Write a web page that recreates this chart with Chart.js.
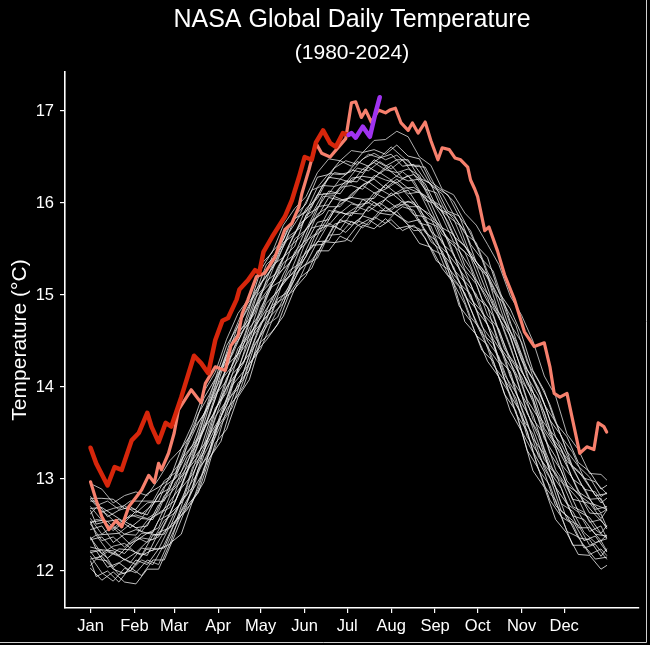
<!DOCTYPE html>
<html>
<head>
<meta charset="utf-8">
<title>NASA Global Daily Temperature</title>
<script src="https://cdn.jsdelivr.net/npm/chart.js@4.4.1/dist/chart.umd.min.js"></script>
<style>
  html, body { margin: 0; padding: 0; background: #000; }
  #wrap { width: 650px; height: 645px; }
</style>
</head>
<body>
<div id="wrap"><canvas id="tempChart" width="650" height="645"></canvas></div>
<script>
// Axis ticks
const monthStarts = [1, 32, 60, 91, 121, 152, 182, 213, 244, 274, 305, 335];
const monthLabels = ['Jan', 'Feb', 'Mar', 'Apr', 'May', 'Jun', 'Jul', 'Aug', 'Sep', 'Oct', 'Nov', 'Dec'];
const tempTicks = [12, 13, 14, 15, 16, 17];

// Past years (1980-2022), read every 8 days off the picture
const sampleDays = [1, 9, 17, 25, 33, 41, 49, 57, 65, 73, 81, 89, 97, 105, 113, 121, 129, 137, 145, 153, 161, 169, 177, 185,
  193, 201, 209, 217, 225, 233, 241, 249, 257, 265, 273, 281, 289, 297, 305, 313, 321, 329, 337, 345, 353, 361, 365];
// second group of years, sampled half a step later
const sampleDaysB = [1, 5, 13, 21, 29, 37, 45, 53, 61, 69, 77, 85, 93, 101, 109, 117, 125, 133, 141, 149, 157, 165, 173, 181,
  189, 197, 205, 213, 221, 229, 237, 245, 253, 261, 269, 277, 285, 293, 301, 309, 317, 325, 333, 341, 349, 357, 365];

const past01 = [12.03, 11.90, 11.99, 11.88, 11.86, 12.02, 12.02, 12.30, 12.40, 12.76, 12.97, 13.39, 13.54, 13.89, 14.08, 14.49, 14.60, 14.77, 15.07, 15.21, 15.48, 15.48, 15.64, 15.58, 15.76, 15.72, 15.83, 15.72, 15.75, 15.56, 15.52, 15.29, 15.13, 14.71, 14.57, 14.28, 14.11, 13.74, 13.52, 13.09, 12.91, 12.56, 12.41, 12.18, 12.17, 12.02, 12.06];
const past02 = [12.16, 11.98, 11.89, 12.03, 11.98, 12.12, 12.07, 12.35, 12.61, 12.75, 13.12, 13.34, 13.76, 13.91, 14.25, 14.41, 14.72, 14.96, 15.06, 15.33, 15.40, 15.65, 15.66, 15.80, 15.73, 15.85, 15.78, 15.91, 15.76, 15.72, 15.50, 15.44, 15.13, 14.90, 14.56, 14.46, 14.11, 13.92, 13.52, 13.29, 12.92, 12.77, 12.43, 12.37, 12.18, 12.24, 12.17];
const past03 = [12.13, 12.16, 12.02, 11.97, 12.12, 12.07, 12.24, 12.29, 12.66, 12.88, 13.08, 13.53, 13.71, 14.04, 14.18, 14.59, 14.79, 14.91, 15.22, 15.34, 15.58, 15.59, 15.82, 15.76, 15.86, 15.82, 15.95, 15.87, 15.79, 15.82, 15.58, 15.48, 15.18, 15.02, 14.69, 14.43, 14.26, 13.91, 13.71, 13.30, 13.08, 12.71, 12.60, 12.36, 12.34, 12.16, 12.24];
const past04 = [12.26, 12.23, 12.04, 12.13, 12.07, 12.25, 12.24, 12.49, 12.60, 12.88, 13.26, 13.50, 13.85, 13.98, 14.35, 14.56, 14.89, 14.96, 15.24, 15.47, 15.57, 15.78, 15.71, 15.89, 15.88, 16.01, 15.91, 15.98, 15.98, 15.78, 15.75, 15.45, 15.31, 14.99, 14.85, 14.50, 14.33, 14.00, 13.67, 13.49, 13.11, 12.91, 12.56, 12.50, 12.28, 12.33, 12.22];
const past05 = [12.20, 12.23, 12.22, 12.12, 12.20, 12.17, 12.42, 12.47, 12.77, 12.91, 13.31, 13.55, 13.80, 14.20, 14.36, 14.70, 14.83, 15.15, 15.25, 15.42, 15.71, 15.76, 15.90, 15.86, 16.04, 15.97, 16.04, 15.95, 16.02, 15.95, 15.69, 15.59, 15.28, 15.14, 14.84, 14.68, 14.30, 14.17, 13.76, 13.44, 13.27, 12.91, 12.73, 12.47, 12.47, 12.33, 12.39];
const past06 = [12.36, 12.19, 12.27, 12.30, 12.20, 12.32, 12.37, 12.62, 12.74, 13.13, 13.29, 13.68, 13.85, 14.20, 14.50, 14.67, 14.97, 15.12, 15.27, 15.59, 15.68, 15.92, 15.89, 15.99, 15.96, 16.11, 16.05, 16.11, 15.96, 15.96, 15.84, 15.56, 15.45, 15.15, 15.01, 14.68, 14.47, 14.11, 13.92, 13.55, 13.21, 13.07, 12.73, 12.64, 12.43, 12.49, 12.36];
const past07 = [12.34, 12.37, 12.24, 12.19, 12.33, 12.41, 12.39, 12.63, 12.90, 13.05, 13.30, 13.74, 14.00, 14.17, 14.57, 14.75, 14.94, 15.23, 15.45, 15.56, 15.79, 15.82, 16.02, 16.06, 16.04, 16.05, 16.20, 16.10, 16.14, 15.95, 15.87, 15.73, 15.43, 15.26, 14.98, 14.87, 14.45, 14.28, 13.92, 13.70, 13.33, 13.03, 12.91, 12.65, 12.58, 12.41, 12.49];
const past08 = [12.51, 12.33, 12.37, 12.26, 12.37, 12.31, 12.55, 12.62, 12.91, 13.21, 13.37, 13.77, 13.94, 14.34, 14.51, 14.86, 15.09, 15.17, 15.47, 15.60, 15.88, 15.96, 15.96, 16.10, 16.19, 16.11, 16.15, 16.23, 16.10, 16.12, 15.87, 15.66, 15.57, 15.27, 15.12, 14.78, 14.63, 14.27, 14.03, 13.65, 13.49, 13.10, 12.92, 12.78, 12.53, 12.56, 12.46];
const past09 = [12.45, 12.49, 12.31, 12.40, 12.45, 12.41, 12.47, 12.76, 12.92, 13.23, 13.55, 13.73, 14.10, 14.29, 14.64, 14.80, 15.11, 15.35, 15.44, 15.72, 15.85, 16.06, 16.03, 16.06, 16.20, 16.26, 16.16, 16.26, 16.16, 16.11, 16.00, 15.73, 15.66, 15.32, 15.16, 14.97, 14.61, 14.31, 14.11, 13.84, 13.44, 13.24, 12.93, 12.85, 12.63, 12.62, 12.48];
const past10 = [12.57, 12.40, 12.49, 12.40, 12.39, 12.55, 12.62, 12.69, 13.04, 13.21, 13.54, 13.91, 14.07, 14.42, 14.58, 14.95, 15.12, 15.29, 15.61, 15.71, 15.96, 15.98, 16.17, 16.19, 16.15, 16.30, 16.25, 16.22, 16.30, 16.12, 16.04, 15.85, 15.58, 15.47, 15.17, 14.93, 14.77, 14.45, 14.07, 13.87, 13.52, 13.33, 12.98, 12.83, 12.74, 12.57, 12.66];
const past11 = [12.53, 12.55, 12.44, 12.54, 12.47, 12.49, 12.72, 12.84, 12.98, 13.34, 13.53, 13.87, 14.23, 14.36, 14.72, 15.02, 15.15, 15.41, 15.53, 15.87, 15.94, 16.13, 16.10, 16.27, 16.29, 16.27, 16.39, 16.29, 16.24, 16.26, 16.02, 15.91, 15.64, 15.53, 15.32, 15.01, 14.75, 14.56, 14.17, 13.95, 13.55, 13.37, 13.14, 12.86, 12.78, 12.63, 12.67];
const past12 = [12.70, 12.55, 12.46, 12.57, 12.61, 12.57, 12.65, 12.94, 13.08, 13.29, 13.68, 13.98, 14.19, 14.55, 14.70, 15.00, 15.32, 15.41, 15.68, 15.83, 16.09, 16.10, 16.26, 16.22, 16.37, 16.44, 16.36, 16.33, 16.37, 16.30, 16.04, 15.96, 15.83, 15.54, 15.32, 15.20, 14.80, 14.60, 14.34, 13.94, 13.73, 13.36, 13.23, 13.00, 12.78, 12.79, 12.66];
const past13 = [12.68, 12.69, 12.61, 12.53, 12.65, 12.61, 12.83, 12.90, 13.21, 13.37, 13.71, 13.95, 14.34, 14.58, 14.74, 15.13, 15.29, 15.57, 15.66, 15.94, 16.05, 16.28, 16.26, 16.36, 16.33, 16.47, 16.40, 16.47, 16.47, 16.27, 16.21, 15.92, 15.86, 15.69, 15.36, 15.22, 14.97, 14.61, 14.29, 14.08, 13.82, 13.46, 13.19, 13.09, 12.91, 12.74, 12.79];
const past14 = [12.81, 12.64, 12.68, 12.71, 12.63, 12.74, 12.76, 13.04, 13.19, 13.54, 13.70, 14.09, 14.31, 14.67, 14.90, 15.10, 15.41, 15.54, 15.83, 15.90, 16.17, 16.32, 16.31, 16.34, 16.48, 16.54, 16.47, 16.52, 16.41, 16.41, 16.19, 16.10, 15.88, 15.67, 15.57, 15.25, 15.04, 14.68, 14.49, 14.11, 13.81, 13.62, 13.30, 13.14, 13.02, 12.81, 12.85];
const past15 = [12.79, 12.79, 12.78, 12.68, 12.67, 12.84, 12.91, 13.00, 13.33, 13.51, 13.88, 14.09, 14.45, 14.66, 14.88, 15.27, 15.47, 15.60, 15.86, 15.99, 16.28, 16.31, 16.46, 16.40, 16.55, 16.58, 16.53, 16.63, 16.51, 16.48, 16.23, 16.14, 16.02, 15.79, 15.54, 15.41, 15.03, 14.85, 14.57, 14.18, 13.96, 13.61, 13.46, 13.18, 13.08, 12.89, 12.93];
const past16 = [12.95, 12.89, 12.74, 12.82, 12.86, 12.82, 13.00, 13.20, 13.33, 13.60, 13.95, 14.16, 14.52, 14.80, 14.97, 15.33, 15.46, 15.76, 15.94, 16.07, 16.33, 16.48, 16.46, 16.57, 16.55, 16.68, 16.69, 16.78, 16.72, 16.50, 16.41, 16.15, 16.09, 15.89, 15.76, 15.55, 15.33, 14.99, 14.78, 14.50, 14.12, 13.90, 13.49, 13.32, 13.06, 13.05, 12.99];
const past17 = [12.11, 11.94, 12.00, 11.88, 12.04, 11.95, 12.12, 12.12, 12.41, 12.71, 12.85, 13.23, 13.41, 13.83, 14.01, 14.37, 14.51, 14.68, 15.01, 15.19, 15.29, 15.58, 15.57, 15.59, 15.75, 15.82, 15.74, 15.82, 15.70, 15.76, 15.62, 15.37, 15.28, 14.88, 14.72, 14.40, 14.28, 13.92, 13.74, 13.31, 13.11, 12.77, 12.59, 12.28, 12.28, 12.13, 12.15];
const past18 = [12.06, 12.13, 12.11, 11.96, 12.00, 12.12, 12.07, 12.29, 12.55, 12.66, 12.89, 13.32, 13.59, 13.78, 14.17, 14.34, 14.67, 14.76, 15.06, 15.29, 15.38, 15.55, 15.75, 15.68, 15.81, 15.76, 15.92, 15.91, 15.82, 15.70, 15.71, 15.52, 15.22, 15.09, 14.76, 14.61, 14.24, 14.07, 13.71, 13.52, 13.10, 12.93, 12.59, 12.51, 12.25, 12.29, 12.13];
const past19 = [12.22, 12.22, 12.04, 12.09, 12.00, 12.17, 12.23, 12.25, 12.55, 12.74, 13.11, 13.27, 13.68, 13.93, 14.09, 14.47, 14.65, 14.96, 15.04, 15.31, 15.54, 15.55, 15.77, 15.81, 15.78, 15.96, 15.89, 15.87, 15.96, 15.92, 15.68, 15.59, 15.30, 15.15, 14.85, 14.58, 14.47, 14.08, 13.88, 13.46, 13.27, 13.02, 12.65, 12.55, 12.33, 12.38, 12.21];
const past20 = [12.21, 12.13, 12.21, 12.16, 12.09, 12.25, 12.22, 12.43, 12.52, 12.89, 13.07, 13.32, 13.73, 14.02, 14.17, 14.51, 14.81, 14.91, 15.09, 15.40, 15.51, 15.76, 15.74, 15.88, 15.96, 15.91, 16.00, 15.92, 16.02, 15.87, 15.85, 15.56, 15.45, 15.13, 15.01, 14.66, 14.49, 14.13, 13.94, 13.62, 13.24, 13.08, 12.73, 12.65, 12.42, 12.31, 12.35];
const past21 = [12.37, 12.24, 12.14, 12.24, 12.23, 12.17, 12.39, 12.40, 12.66, 12.83, 13.21, 13.48, 13.68, 14.06, 14.26, 14.62, 14.75, 15.04, 15.26, 15.35, 15.62, 15.71, 15.92, 15.88, 15.91, 16.04, 15.97, 16.11, 16.01, 16.01, 15.80, 15.75, 15.45, 15.29, 14.96, 14.82, 14.52, 14.33, 13.93, 13.72, 13.46, 13.08, 12.90, 12.60, 12.56, 12.40, 12.38];
const past22 = [12.35, 12.39, 12.22, 12.17, 12.30, 12.36, 12.34, 12.55, 12.64, 12.91, 13.28, 13.47, 13.84, 14.14, 14.27, 14.63, 14.91, 15.04, 15.21, 15.51, 15.73, 15.76, 15.94, 16.03, 15.98, 16.00, 16.15, 16.08, 16.15, 16.00, 15.85, 15.78, 15.62, 15.28, 15.12, 14.81, 14.67, 14.32, 14.13, 13.71, 13.50, 13.12, 12.99, 12.70, 12.64, 12.45, 12.36];
const past23 = [12.54, 12.39, 12.40, 12.41, 12.29, 12.41, 12.42, 12.68, 12.77, 13.09, 13.25, 13.63, 13.87, 14.25, 14.47, 14.65, 15.00, 15.23, 15.34, 15.50, 15.81, 15.89, 16.07, 16.02, 16.15, 16.23, 16.14, 16.25, 16.16, 16.17, 16.07, 15.80, 15.60, 15.48, 15.29, 14.96, 14.77, 14.41, 14.24, 13.86, 13.66, 13.28, 13.09, 12.78, 12.75, 12.61, 12.48];
const past24 = [12.52, 12.56, 12.54, 12.41, 12.51, 12.43, 12.59, 12.67, 12.97, 13.08, 13.45, 13.69, 14.07, 14.23, 14.51, 14.88, 15.00, 15.30, 15.52, 15.63, 15.79, 16.07, 16.08, 16.21, 16.28, 16.22, 16.33, 16.25, 16.34, 16.24, 16.03, 15.99, 15.80, 15.52, 15.41, 15.09, 14.94, 14.59, 14.26, 14.07, 13.69, 13.52, 13.16, 13.01, 12.75, 12.72, 12.67];
const past25 = [12.66, 12.51, 12.54, 12.56, 12.47, 12.57, 12.56, 12.82, 12.93, 13.23, 13.39, 13.81, 14.03, 14.39, 14.62, 14.81, 15.15, 15.25, 15.54, 15.78, 15.88, 16.10, 16.10, 16.24, 16.23, 16.39, 16.32, 16.41, 16.27, 16.31, 16.21, 15.96, 15.86, 15.60, 15.46, 15.26, 14.90, 14.72, 14.36, 14.03, 13.85, 13.48, 13.32, 13.00, 12.91, 12.67, 12.70];
const past26 = [12.62, 12.69, 12.61, 12.49, 12.61, 12.57, 12.75, 12.76, 13.04, 13.27, 13.46, 13.86, 14.19, 14.35, 14.63, 14.97, 15.11, 15.41, 15.64, 15.73, 15.99, 16.19, 16.18, 16.22, 16.38, 16.35, 16.45, 16.37, 16.47, 16.31, 16.15, 16.11, 15.86, 15.76, 15.43, 15.29, 15.08, 14.72, 14.50, 14.11, 13.90, 13.53, 13.38, 13.13, 12.89, 12.86, 12.68];
const past27 = [12.76, 12.76, 12.59, 12.66, 12.70, 12.62, 12.72, 12.92, 13.01, 13.35, 13.61, 13.81, 14.20, 14.50, 14.67, 15.04, 15.20, 15.38, 15.68, 15.87, 15.96, 16.20, 16.33, 16.31, 16.45, 16.40, 16.49, 16.53, 16.40, 16.42, 16.25, 16.16, 15.91, 15.86, 15.55, 15.39, 15.04, 14.90, 14.52, 14.19, 13.99, 13.64, 13.47, 13.13, 13.02, 12.82, 12.84];
const past28 = [12.78, 12.71, 12.76, 12.67, 12.76, 12.76, 12.76, 12.98, 13.07, 13.40, 13.71, 13.92, 14.20, 14.56, 14.85, 15.01, 15.33, 15.45, 15.76, 15.89, 16.14, 16.19, 16.38, 16.46, 16.42, 16.53, 16.49, 16.61, 16.50, 16.40, 16.39, 16.16, 16.09, 15.85, 15.70, 15.39, 15.26, 14.89, 14.67, 14.27, 14.06, 13.81, 13.46, 13.29, 13.01, 12.97, 12.84];

const pastYears = [past01, past02, past03, past04, past05, past06, past07, past08,
  past09, past10, past11, past12, past13, past14, past15, past16];
const pastYearsB = [past17, past18, past19, past20, past21, past22, past23, past24,
  past25, past26, past27, past28];

// 2023
const days2023 = [1, 5, 9, 14, 19, 23, 28, 33, 37, 42, 46, 49, 51, 56, 60, 63, 72, 79, 82, 89, 96, 100, 105, 108, 112, 118, 124,
  131, 138, 143, 148, 150, 155, 160, 164, 170, 176, 181, 185, 188, 192, 195, 199, 204, 209, 212, 216, 220, 225, 228, 232, 237,
  241, 246, 249, 254, 258, 262, 267, 269, 272, 274, 279, 282, 288, 293, 300, 307, 314, 321, 325, 328, 332, 337, 342, 346, 351,
  356, 359, 363, 365];
const temps2023 = [12.97, 12.77, 12.59, 12.45, 12.55, 12.48, 12.70, 12.80, 12.88, 13.04, 12.96, 13.17, 13.10, 13.28, 13.50, 13.75,
  13.97, 13.83, 14.04, 14.22, 14.18, 14.45, 14.55, 14.80, 14.95, 15.20, 15.24, 15.41, 15.71, 15.78, 15.96, 16.10, 16.36, 16.65,
  16.54, 16.50, 16.61, 16.70, 17.09, 17.10, 16.93, 17.01, 16.88, 17.01, 16.98, 17.01, 17.03, 16.87, 16.79, 16.87, 16.76, 16.88,
  16.68, 16.47, 16.60, 16.58, 16.49, 16.47, 16.39, 16.25, 16.15, 16.07, 15.70, 15.74, 15.48, 15.22, 14.95, 14.60, 14.44, 14.48,
  14.22, 13.93, 13.89, 13.93, 13.57, 13.28, 13.35, 13.32, 13.61, 13.57, 13.51];

// 2024 up to early July
const days2024 = [1, 5, 13, 18, 23, 30, 35, 41, 44, 49, 54, 58, 65, 74, 79, 84, 89, 94, 98, 104, 106, 112, 117, 120, 123, 129,
  138, 143, 148, 152, 157, 160, 165, 170, 174, 179, 183];
const temps2024 = [13.34, 13.17, 12.93, 13.13, 13.10, 13.42, 13.50, 13.72, 13.57, 13.40, 13.61, 13.57, 13.89, 14.34, 14.26, 14.15,
  14.51, 14.72, 14.75, 14.95, 15.06, 15.16, 15.27, 15.24, 15.47, 15.63, 15.85, 16.03, 16.28, 16.50, 16.47, 16.66, 16.79, 16.65,
  16.61, 16.76, 16.74];

// July 2024 (latest days)
const daysJul2024 = [183, 185, 188, 193, 198, 202, 205];
const tempsJul2024 = [16.74, 16.76, 16.71, 16.83, 16.72, 16.98, 17.15];

// Colors
const fontFamily = "'Liberation Sans', Arial, sans-serif";
const pastColors = ['rgba(250,250,250,0.85)', 'rgba(215,215,215,0.9)'];
const color2023 = '#f7806d';
const color2024 = '#d6260b';
const colorJul2024 = '#a033f0';

function toPoints(xs, ys) {
    return xs.map((x, i) => ({ x: x, y: ys[i] })).filter(p => p.y !== undefined);
}

function pastDataset(series, days, i) {
    return {
        label: 'past ' + (i + 1),
        data: toPoints(days, series),
        borderColor: pastColors[i % 2],
        borderWidth: 0.9
    };
}

const datasets = [
    { label: 'July 2024', data: toPoints(daysJul2024, tempsJul2024), borderColor: colorJul2024, borderWidth: 4.5 },
    { label: '2024', data: toPoints(days2024, temps2024), borderColor: color2024, borderWidth: 4.5 },
    { label: '2023', data: toPoints(days2023, temps2023), borderColor: color2023, borderWidth: 3.2 }
];
pastYears.forEach((series, i) => datasets.push(pastDataset(series, sampleDays, i)));
pastYearsB.forEach((series, i) => datasets.push(pastDataset(series, sampleDaysB, i + 16)));

// Background, titles and frame
const decorPlugin = {
    id: 'decor',
    beforeDraw: (chart) => {
        const ctx = chart.ctx;
        ctx.save();
        ctx.fillStyle = '#000';
        ctx.fillRect(0, 0, chart.width, chart.height);
        ctx.restore();
    },
    afterDraw: (chart) => {
        const ctx = chart.ctx;
        const mid = (chart.chartArea.left + chart.chartArea.right) / 2;
        ctx.save();
        ctx.fillStyle = '#fff';
        ctx.textAlign = 'center';
        ctx.textBaseline = 'alphabetic';
        ctx.font = '25px ' + fontFamily;
        ctx.fillText('NASA Global Daily Temperature', mid, 27);
        ctx.font = '21px ' + fontFamily;
        ctx.fillText('(1980-2024)', mid, 59);

        ctx.strokeStyle = '#d0d0d0';
        ctx.lineWidth = 1;
        ctx.beginPath();
        ctx.moveTo(646.5, 0);
        ctx.lineTo(646.5, 642.5);
        ctx.lineTo(0, 642.5);
        ctx.stroke();
        ctx.restore();
    }
};

new Chart(document.getElementById('tempChart').getContext('2d'), {
    type: 'line',
    data: { datasets: datasets },
    options: {
        responsive: false,
        animation: false,
        layout: { padding: { top: 72, right: 11, bottom: 0, left: 0 } },
        elements: {
            point: { radius: 0 },
            line: { tension: 0, borderJoinStyle: 'round', borderCapStyle: 'round', fill: false }
        },
        plugins: {
            legend: { display: false },
            title: { display: false },
            tooltip: { enabled: false }
        },
        scales: {
            x: {
                type: 'linear',
                min: -17,
                max: 387.8,
                afterFit: (scale) => { scale.height = 37; },
                afterBuildTicks: (scale) => { scale.ticks = monthStarts.map(v => ({ value: v })); },
                ticks: {
                    color: '#fff',
                    font: { family: fontFamily, size: 16.5 },
                    padding: 4,
                    autoSkip: false,
                    maxRotation: 0,
                    callback: (value, index) => monthLabels[index]
                },
                grid: { drawOnChartArea: false, color: '#fff', tickLength: 5, lineWidth: 1.2 },
                border: { color: '#fff', width: 1.6 }
            },
            y: {
                type: 'linear',
                min: 11.598,
                max: 17.424,
                afterFit: (scale) => { scale.width = 65; },
                afterBuildTicks: (scale) => { scale.ticks = tempTicks.map(v => ({ value: v })); },
                ticks: {
                    color: '#fff',
                    font: { family: fontFamily, size: 16.5 },
                    padding: 6,
                    callback: (value) => String(value)
                },
                grid: { drawOnChartArea: false, color: '#fff', tickLength: 5, lineWidth: 1.2 },
                border: { color: '#fff', width: 1.6 },
                title: {
                    display: true,
                    text: 'Temperature (°C)',
                    color: '#fff',
                    font: { family: fontFamily, size: 21 },
                    padding: { top: 8, bottom: 0 }
                }
            }
        }
    },
    plugins: [decorPlugin]
});
</script>
</body>
</html>
